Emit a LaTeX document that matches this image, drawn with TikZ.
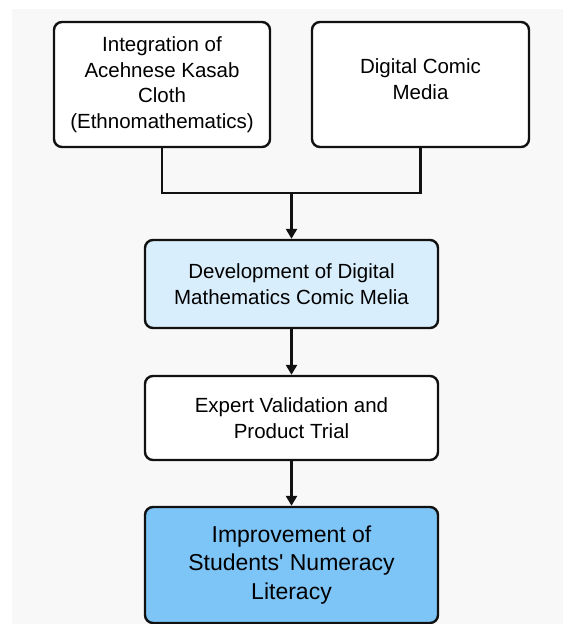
\documentclass[tikz,border=0pt]{standalone}
\usepackage{fontspec}
\setmainfont{Liberation Sans}
\usetikzlibrary{arrows.meta,calc}

\definecolor{pagebg}{HTML}{F8F8F8}
\definecolor{inkline}{HTML}{111111}
\definecolor{paleblue}{HTML}{D9EEFC}
\definecolor{skyblue}{HTML}{7DC4F7}

\tikzset{
  flowbox/.style={draw=inkline, line width=2.4pt, rounded corners=8pt,
    fill=white, align=center, inner sep=0pt,
    font=\fontsize{20.5}{25.5}\selectfont},
  linkline/.style={draw=inkline, line width=2.4pt},
  arrowline/.style={linkline, -{Triangle[length=10pt,width=11pt]}},
}

\begin{document}
\begin{tikzpicture}[x=1pt, y=-1pt]
  \useasboundingbox (0,0) rectangle (563,624);
  \fill[white] (0,0) rectangle (563,624);
  \fill[pagebg] (12,9) rectangle (563,624);

  % two sources
  \node[flowbox, minimum width=216pt, minimum height=125pt] (ethno) at (162,84.5)
    {Integration of\\Acehnese Kasab\\Cloth\\(Ethnomathematics)};
  \node[flowbox, minimum width=217pt, minimum height=125pt] (comic) at (420.5,84.5) {};
  \node[align=center, font=\fontsize{20.5}{25.5}\selectfont] (comictext) at (420.5,79)
    {Digital Comic\\Media};

  % main chain
  \node[flowbox, fill=paleblue, minimum width=293pt, minimum height=88pt] (develop) at (291.5,284)
    {Development of Digital\\Mathematics Comic Melia};
  \node[flowbox, minimum width=293pt, minimum height=84pt] (validate) at (291.5,418)
    {Expert Validation and\\Product Trial};
  \node[flowbox, fill=skyblue, minimum width=293pt, minimum height=116pt,
        font=\fontsize{23}{28.5}\selectfont] (improve) at (291.5,565)
    {Improvement of\\Students\textquotesingle{} Numeracy\\Literacy};

  % connectors
  \coordinate (merge) at (291.5,193);
  \draw[linkline] (ethno.south) |- (merge) -| (comic.south);
  \draw[arrowline] (merge) -- (develop.north);
  \draw[arrowline] (develop.south) -- (validate.north);
  \draw[arrowline] (validate.south) -- (improve.north);
\end{tikzpicture}
\end{document}
